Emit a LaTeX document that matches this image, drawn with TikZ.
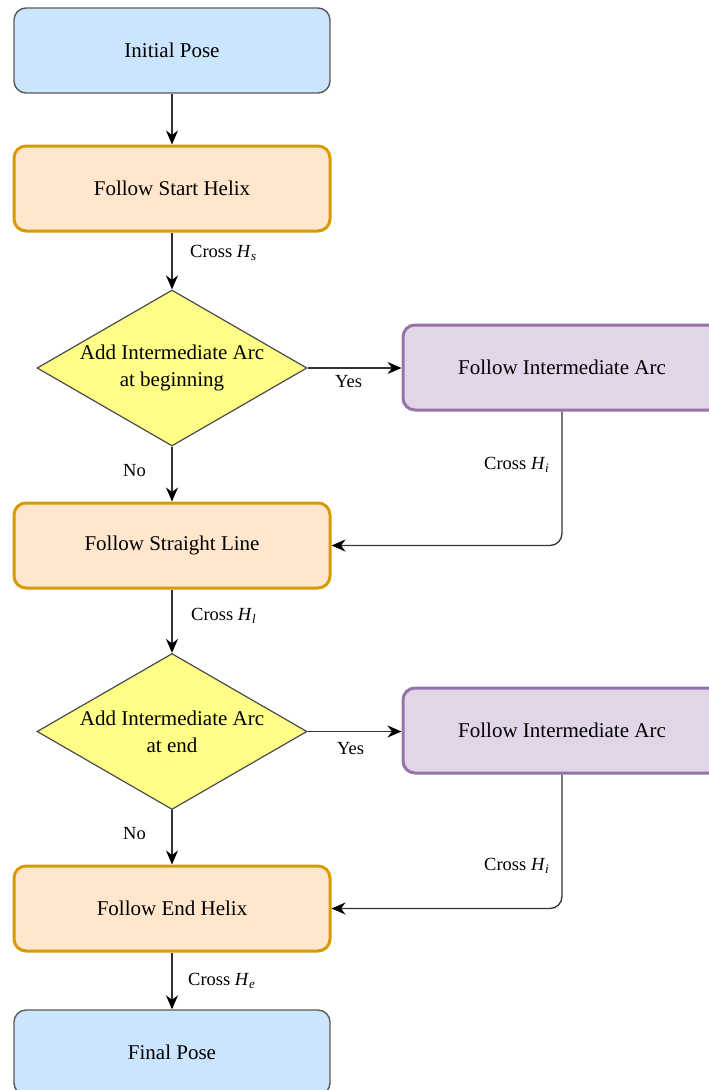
\documentclass[tikz,border=0pt]{standalone}
\usepackage{fontspec}
\setmainfont{LiberationSerif}[Extension=.ttf, UprightFont=*-Regular, ItalicFont=*-Italic, BoldFont=*-Bold]
\usetikzlibrary{shapes.geometric,arrows.meta}
\definecolor{blueFill}{HTML}{CCE5FF}
\definecolor{blueLine}{HTML}{5A5A5A}
\definecolor{orangeFill}{HTML}{FFE6CC}
\definecolor{orangeLine}{HTML}{D79B00}
\definecolor{yellowFill}{HTML}{FFFF88}
\definecolor{yellowLine}{HTML}{4A4A4A}
\definecolor{purpleFill}{HTML}{E1D5E7}
\definecolor{purpleLine}{HTML}{9673A6}
\definecolor{wire}{HTML}{333333}
\newcommand{\crossH}[1]{Cross \textit{H}\raisebox{-0.3ex}{\fontsize{13}{15}\selectfont\textit{#1}}}
\tikzset{
  box/.style={rectangle, rounded corners=12pt, minimum width=316pt, minimum height=85pt,
    inner sep=0pt, font=\fontsize{21}{25}\selectfont},
  poseBox/.style={box, fill=blueFill, draw=blueLine, line width=1.4pt},
  stageBox/.style={box, fill=orangeFill, draw=orangeLine, line width=3pt},
  arcBox/.style={box, minimum width=318pt, fill=purpleFill, draw=purpleLine, line width=3pt},
  decision/.style={diamond, minimum width=270pt, minimum height=156pt, inner sep=0pt,
    fill=yellowFill, draw=yellowLine, line width=1.2pt},
  decText/.style={align=center, font=\fontsize{21}{27}\selectfont, inner sep=0pt},
  flow/.style={draw=wire, line width=1.3pt,
    -{Stealth[length=14pt,width=12pt,inset=4.5pt,color=black]}},
  tag/.style={font=\fontsize{18.5}{22}\selectfont, inner sep=0pt}
}
\begin{document}
\begin{tikzpicture}[x=1pt,y=-1pt]
\useasboundingbox (0,0) rectangle (709,1090);
\clip (0,0) rectangle (709,1090);

% main column
\node[poseBox]  (init)  at (172,50.5)   {Initial Pose};
\node[stageBox] (start) at (172,188.5)  {Follow Start Helix};
\node[decision] (dec1)  at (172,368)    {};
\node[decText]  (dec1t) at (172,368)    {Add Intermediate Arc\\at beginning};
\node[stageBox] (line)  at (172,545.5)  {Follow Straight Line};
\node[decision] (dec2)  at (172,731.5)  {};
\node[decText]  (dec2t) at (172,731.5)  {Add Intermediate Arc\\at end};
\node[stageBox] (endh)  at (172,908.5)  {Follow End Helix};
\node[poseBox]  (final) at (172,1052.5) {Final Pose};

% optional arcs
\node[arcBox] (arc1) at (562,367.5) {Follow Intermediate Arc};
\node[arcBox] (arc2) at (562,730.5) {Follow Intermediate Arc};

% connectors
\draw[flow] (dec1.east) -- (dec1.east -| arc1.west);
\draw[flow] (init.south) -- (start.north);
\draw[flow] (start.south) -- (dec1.north);
\draw[flow] (dec1.south) -- (line.north);
\draw[flow, rounded corners=12pt] (arc1.south) |- (line.east);
\draw[flow] (line.south) -- (dec2.north);
\draw[flow] (dec2.east) -- (dec2.east -| arc2.west);
\draw[flow] (dec2.south) -- (endh.north);
\draw[flow, rounded corners=12pt] (arc2.south) |- (endh.east);
\draw[flow] (endh.south) -- (final.north);

% connector labels
\node[tag, anchor=west] (lblS)  at (190,253) {\crossH{s}};
\node[tag, anchor=west] (lblY1) at (335,382) {Yes};
\node[tag, anchor=west] (lblN1) at (123,471) {No};
\node[tag, anchor=east] (lblI1) at (549,465) {\crossH{i}};
\node[tag, anchor=west] (lblL)  at (191,616) {\crossH{l}};
\node[tag, anchor=west] (lblY2) at (337,749) {Yes};
\node[tag, anchor=west] (lblN2) at (123,834) {No};
\node[tag, anchor=east] (lblI2) at (549,866) {\crossH{i}};
\node[tag, anchor=west] (lblE)  at (188,981) {\crossH{e}};
\end{tikzpicture}
\end{document}
